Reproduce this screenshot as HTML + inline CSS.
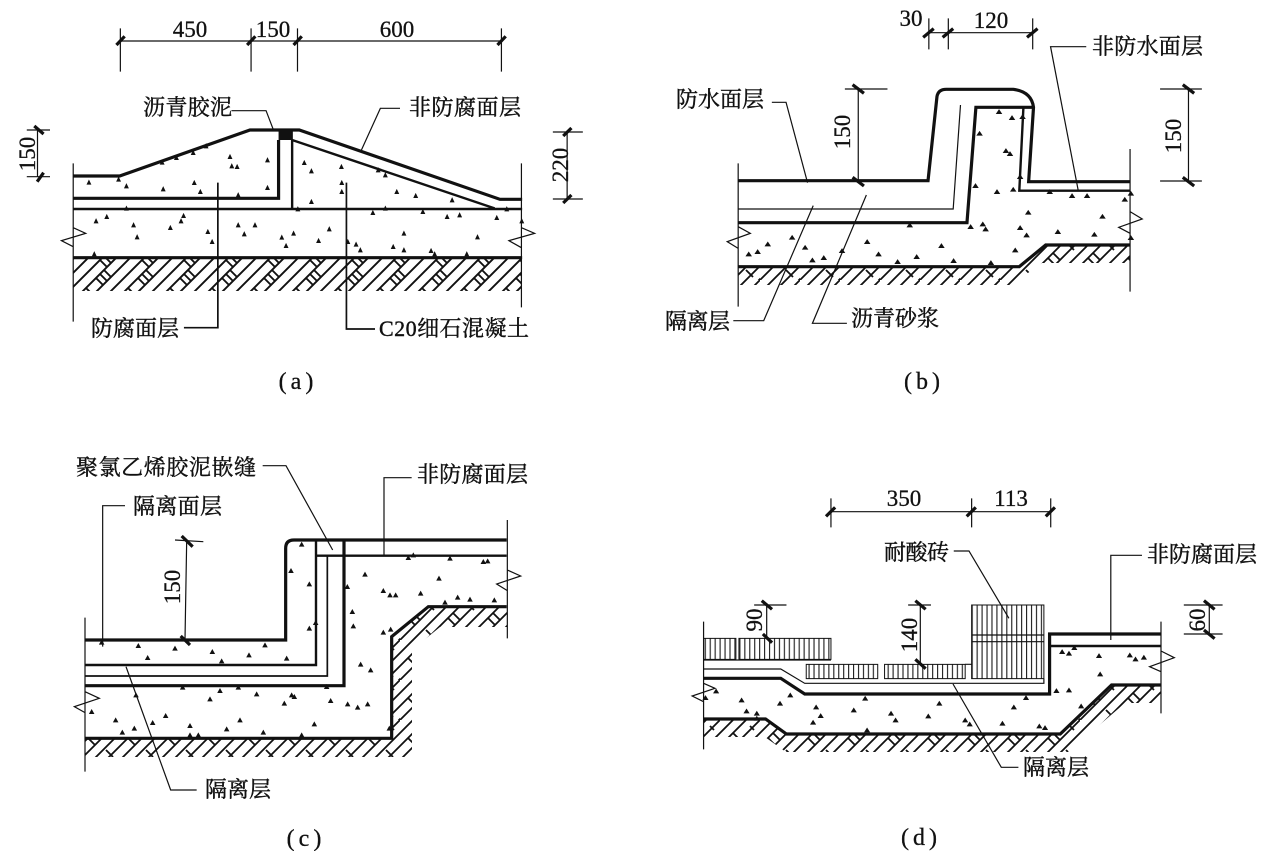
<!DOCTYPE html>
<html><head><meta charset="utf-8"><style>
html,body{margin:0;padding:0;background:#fff}
svg{display:block}
path,rect{vector-effect:non-scaling-stroke}
.l{fill:none;stroke:#111;stroke-linejoin:miter}
.w1{stroke-width:1.2}.w15{stroke-width:1.7}.w2{stroke-width:2.4}.w3{stroke-width:3.2}
.d{fill:#111;stroke:#111;stroke-width:1.3}
text{font-family:"Liberation Serif","Noto Serif CJK SC",serif;font-size:22px;fill:#111;stroke:#111;stroke-width:.4}
.n{font-family:"Liberation Serif",serif;font-size:23px;text-anchor:middle;stroke-width:.3}
.c{font-size:24px;letter-spacing:4px}
</style></head><body>
<svg width="1276" height="851" viewBox="0 0 1276 851" xmlns="http://www.w3.org/2000/svg">
<defs>
<pattern id="h" width="42" height="42" patternUnits="userSpaceOnUse" patternTransform="translate(10 0)">
<path d="M-1 1L1 -1M-1 15L15 -1M-1 29L29 -1M-1 43L43 -1M13 43L43 13M27 43L43 27M41 43L43 41M2 26L9 33M6 22L13 29M10 18L17 25M6 8L13 15M10 4L17 11M27 1L30 4M34 36L43 45" stroke="#111" stroke-width="1.9" fill="none"/>
</pattern>
<pattern id="h2" width="40" height="40" patternUnits="userSpaceOnUse">
<path d="M-1 14L14 -1M-1 27L27 -1M-1 41L41 -1M12 41L41 12M25 41L41 25M38 41L41 38M8 18L15 25M13 13L20 20M26 30L33 37M30 6L34 10" stroke="#111" stroke-width="1.8" fill="none"/>
</pattern>
<pattern id="v" width="13" height="20" patternUnits="userSpaceOnUse"><rect width="3" height="20" fill="#222"/></pattern>
</defs>
<rect width="1276" height="851" fill="#fff"/>

<!-- hatch -->
<rect x="73" y="259" width="448" height="32" fill="url(#h)"/>
<path d="M738 267H1019L1046 245H1130V263H1042L1011 285H738Z" fill="url(#h2)"/>
<path d="M85 738H392V637L428 607H507V627H440L412 650V757H85Z" fill="url(#h2)"/>
<path d="M704 719H765L787 734H1060L1112 685H1161V703H1125L1068 752H786L765 737H704Z" fill="url(#h2)"/>

<!-- (a) -->
<g transform="scale(.35714,.33333)">
<path class="l w3" d="M205 528H335L700 390H838L1400 598H1462"/>
<rect x="780" y="390" width="40" height="30" fill="#111"/>
<path class="l w3" d="M780 420V595H205"/>
<path class="l w2" d="M818 420V627M818 420L1385 625M205 627H1462"/>
<path class="l w3" d="M205 773H1462"/>
<path class="l w1" d="M205 490V965M1460 490V922M205 683L240 700L172 722L205 740M1460 683L1497 700L1425 722L1460 743"/>
<path class="l w1" d="M337 85V215M703 85V215M833 85V215M1404 85V215M337 123H1404"/>
<path class="l w3" d="M326 135L349 109M692 135L715 109M822 135L845 109M1393 135L1416 109"/>
<path class="l w1" d="M105 390V530M75 390H140M75 530H140M1588 396V597M1548 396H1632M1548 597H1632"/>
<path class="l w3" d="M96 378L122 402M104 545L122 518M1577 408L1600 384M1577 609L1600 585"/>
<path class="l w1" d="M648 332H745L765 388M1120 325H1065L1012 450"/>
<path class="l w15" d="M515 983H610V548M1050 987H970V548"/>
<path class="d" d="M245 552l4-9 4 9zM328 543l4-9 4 9zM350 563l4-9 4 9zM450 492l4-9 4 9zM490 478l4-9 4 9zM537 463l4-9 4 9zM573 443l4-9 4 9zM640 475l4-9 4 9zM645 503l4-9 4 9zM660 505l4-9 4 9zM745 485l4-9 4 9zM540 553l4-9 4 9zM453 572l4-9 4 9zM557 580l4-9 4 9zM663 590l4-9 4 9zM745 568l4-9 4 9zM848 493l4-9 4 9zM868 518l4-9 4 9zM952 505l4-9 4 9zM953 553l4-9 4 9zM953 580l4-9 4 9zM1055 515l4-9 4 9zM1075 530l4-9 4 9zM1107 580l4-9 4 9zM1160 592l4-9 4 9zM1262 605l4-9 4 9zM868 610l4-9 4 9zM265 668l4-9 4 9zM295 655l4-9 4 9zM370 680l4-9 4 9zM380 716l4-9 4 9zM473 688l4-9 4 9zM503 668l4-9 4 9zM510 652l4-9 4 9zM578 700l4-9 4 9zM590 730l4-9 4 9zM663 680l4-9 4 9zM680 707l4-9 4 9zM710 680l4-9 4 9zM785 717l4-9 4 9zM818 705l4-9 4 9zM797 742l4-9 4 9zM888 727l4-9 4 9zM918 692l4-9 4 9zM970 730l4-9 4 9zM993 738l4-9 4 9zM1005 755l4-9 4 9zM1040 643l4-9 4 9zM1075 630l4-9 4 9zM1180 640l4-9 4 9zM1248 655l4-9 4 9zM1283 650l4-9 4 9zM1387 658l4-9 4 9zM1457 668l4-9 4 9zM1127 705l4-9 4 9zM1333 716l4-9 4 9zM1097 745l4-9 4 9zM1127 755l4-9 4 9zM1203 757l4-9 4 9zM1213 767l4-9 4 9zM1303 767l4-9 4 9zM260 767l4-9 4 9zM350 630l4-9 4 9zM1415 632l4-9 4 9zM830 632l4-9 4 9z"/>
</g>
<text class="n" x="190" y="37">450</text>
<text class="n" x="273" y="37">150</text>
<text class="n" x="397" y="37">600</text>
<text class="n" transform="translate(35,154) rotate(-90)">150</text>
<text class="n" transform="translate(568,165) rotate(-90)">220</text>
<text x="143" y="115" textLength="89">沥青胶泥</text>
<text x="409" y="115" textLength="112">非防腐面层</text>
<text x="91" y="336" textLength="88">防腐面层</text>
<text x="379" y="336" textLength="150">C20细石混凝土</text>
<text class="n c" x="298" y="389">(a)</text>

<!-- (b) -->
<g transform="translate(640,0) scale(.40568,.33333)">
<path class="l w3" d="M242 542H710L732 290Q735 268 755 268H920Q965 275 970 322L958 545H1208"/>
<path class="l w1" d="M790 315L772 627H242"/>
<path class="l w3" d="M242 668H806L828 322H968"/>
<path class="l w2" d="M945 325L935 572H1208"/>
<path class="l w3" d="M242 800H935L1000 735H1208"/>
<path class="l w1" d="M242 490V920M1208 447V875M242 680L272 700L215 725L242 745M1208 635L1238 657L1180 682L1208 700"/>
<path class="l w1" d="M712 55V148M760 55V148M968 55V148M712 98H968M538 267V545M505 267H610M1352 267V543M1282 267H1385M1282 543H1385"/>
<path class="l w3" d="M698 112L724 86M746 112L772 86M954 112L980 86M524 254L552 280M524 532L552 558M1338 254L1366 280M1338 532L1366 558"/>
<path class="l w1" d="M325 307H360L413 548M1100 140H1012L1080 570M230 962H305L427 617M510 970H425L558 585"/>
<path class="d" d="M880 340l5-9 5 9zM912 358l5-9 5 9zM938 355l5-9 5 9zM832 405l5-9 5 9zM897 457l5-9 5 9zM907 466l5-9 5 9zM932 535l5-9 5 9zM822 562l5-9 5 9zM875 580l5-9 5 9zM915 573l5-9 5 9zM1005 580l5-9 5 9zM1060 592l5-9 5 9zM1097 592l5-9 5 9zM1190 603l5-9 5 9zM1205 585l5-9 5 9zM952 642l5-9 5 9zM1135 654l5-9 5 9zM810 685l5-9 5 9zM840 677l5-9 5 9zM847 692l5-9 5 9zM932 688l5-9 5 9zM948 710l5-9 5 9zM1025 700l5-9 5 9zM1115 708l5-9 5 9zM1205 718l5-9 5 9zM920 755l5-9 5 9zM660 680l5-9 5 9zM370 717l5-9 5 9zM310 737l5-9 5 9zM285 760l5-9 5 9zM263 767l5-9 5 9zM402 747l5-9 5 9zM493 757l5-9 5 9zM555 730l5-9 5 9zM738 742l5-9 5 9zM583 767l5-9 5 9zM677 775l5-9 5 9zM768 787l5-9 5 9zM860 793l5-9 5 9zM630 790l5-9 5 9zM420 785l5-9 5 9zM448 778l5-9 5 9z"/>
</g>
<text class="n" x="911" y="26">30</text>
<text class="n" x="991" y="28">120</text>
<text class="n" transform="translate(850,132) rotate(-90)">150</text>
<text class="n" transform="translate(1181,136) rotate(-90)">150</text>
<text x="676" y="107" textLength="88">防水面层</text>
<text x="1092" y="54" textLength="111">非防水面层</text>
<text x="665" y="329" textLength="65">隔离层</text>
<text x="851" y="326" textLength="88">沥青砂浆</text>
<text class="n c" x="924" y="389">(b)</text>

<!-- (c) -->
<g transform="translate(40,440) scale(.33333,.33333)">
<path class="l w3" d="M135 600H737V325Q737 300 762 300H1400"/>
<path class="l w2" d="M135 675H828V300M828 347H1400"/>
<path class="l w15" d="M135 708H862V347"/>
<path class="l w3" d="M135 737H912V300"/>
<path class="l w3" d="M135 895H1055V590L1165 500H1400"/>
<path class="l w1" d="M135 533V995M1402 240V595M135 755L178 775L103 800L135 818M1402 390L1442 408L1370 432L1402 452"/>
<path class="l w1" d="M440 305L435 600M405 300L490 305"/>
<path class="l w3" d="M425 288L458 320M422 588L450 615"/>
<path class="l w1" d="M668 77H738L878 330M1115 113H1032V347M255 197H188V620M470 1050H392L258 680"/>
<path class="d" d="M180 612l5-9 5 9zM290 622l5-9 5 9zM400 630l5-9 5 9zM318 658l5-9 5 9zM512 640l5-9 5 9zM622 650l5-9 5 9zM670 620l5-9 5 9zM735 660l5-9 5 9zM540 668l5-9 5 9zM780 318l5-9 5 9zM748 397l5-9 5 9zM803 437l5-9 5 9zM803 570l5-9 5 9zM822 553l5-9 5 9zM917 445l5-9 5 9zM970 408l5-9 5 9zM1100 358l5-9 5 9zM1115 350l5-9 5 9zM1225 360l5-9 5 9zM1325 370l5-9 5 9zM1338 368l5-9 5 9zM1192 420l5-9 5 9zM1025 457l5-9 5 9zM1045 470l5-9 5 9zM1062 470l5-9 5 9zM1137 465l5-9 5 9zM1248 477l5-9 5 9zM1285 483l5-9 5 9zM1358 485l5-9 5 9zM1210 492l5-9 5 9zM932 520l5-9 5 9zM935 563l5-9 5 9zM1025 582l5-9 5 9zM1047 573l5-9 5 9zM957 678l5-9 5 9zM987 695l5-9 5 9zM423 747l5-9 5 9zM535 757l5-9 5 9zM590 747l5-9 5 9zM645 767l5-9 5 9zM505 782l5-9 5 9zM750 770l5-9 5 9zM758 775l5-9 5 9zM728 795l5-9 5 9zM855 745l5-9 5 9zM867 787l5-9 5 9zM918 797l5-9 5 9zM948 807l5-9 5 9zM978 797l5-9 5 9zM283 770l5-9 5 9zM150 820l5-9 5 9zM222 845l5-9 5 9zM278 870l5-9 5 9zM333 853l5-9 5 9zM372 832l5-9 5 9zM445 862l5-9 5 9zM595 845l5-9 5 9zM242 882l5-9 5 9zM555 872l5-9 5 9zM665 882l5-9 5 9zM818 857l5-9 5 9zM1043 870l5-9 5 9zM445 890l5-9 5 9zM470 890l5-9 5 9zM780 890l5-9 5 9z"/>
</g>
<text class="n" transform="translate(180,587) rotate(-90)">150</text>
<text x="76" y="475" textLength="180">聚氯乙烯胶泥嵌缝</text>
<text x="417" y="482" textLength="111">非防腐面层</text>
<text x="133" y="514" textLength="89">隔离面层</text>
<text x="205" y="797" textLength="66">隔离层</text>
<text class="n c" x="306" y="846">(c)</text>

<!-- (d) -->
<g transform="translate(680,470) scale(.38023,.33333)">
<rect x="62" y="505" width="85" height="63" fill="url(#v)" stroke="#111" stroke-width="1"/>
<rect x="155" y="505" width="242" height="63" fill="url(#v)" stroke="#111" stroke-width="1"/>
<rect x="332" y="583" width="188" height="43" fill="url(#v)" stroke="#111" stroke-width="1"/>
<rect x="538" y="583" width="212" height="43" fill="url(#v)" stroke="#111" stroke-width="1"/>
<rect x="767" y="405" width="190" height="221" fill="url(#v)" stroke="#111" stroke-width="1"/>
<path class="l w1" d="M767 495H957M767 515H957"/>
<path class="l w1" d="M62 570H397M750 583H767M62 597H265L328 640H957V626"/>
<path class="l w3" d="M62 625H265L328 672H972V492H1265"/>
<path class="l w2" d="M972 528H1265"/>
<path class="l w3" d="M62 747H225L280 792H1000L1135 645H1265"/>
<path class="l w1" d="M62 455V838M1265 455V730M62 640L92 655L32 678L62 695M1265 543L1300 563L1235 590L1265 605"/>
<path class="l w1" d="M397 85V172M767 85V172M975 85V172M397 125H975M228 405V505M195 405H280M632 405V583M600 405H660M1392 405V492M1325 405H1427M1325 492H1427"/>
<path class="l w3" d="M384 139L408 112M754 139L778 112M962 139L986 112M215 392L242 418M218 492L242 518M619 392L646 418M619 568L646 596M1378 392L1406 418M1378 480L1406 506"/>
<path class="l w1" d="M720 243H760L865 445M1215 256H1133V510M890 892H845L718 642"/>
<path class="d" d="M90 668l5-9 5 9zM62 688l5-9 5 9zM157 695l5-9 5 9zM170 728l5-9 5 9zM197 735l5-9 5 9zM197 750l5-9 5 9zM285 680l5-9 5 9zM258 705l5-9 5 9zM353 716l5-9 5 9zM365 742l5-9 5 9zM345 762l5-9 5 9zM452 725l5-9 5 9zM482 690l5-9 5 9zM550 735l5-9 5 9zM562 755l5-9 5 9zM648 743l5-9 5 9zM677 705l5-9 5 9zM745 755l5-9 5 9zM757 767l5-9 5 9zM843 765l5-9 5 9zM873 716l5-9 5 9zM905 688l5-9 5 9zM985 667l5-9 5 9zM1018 665l5-9 5 9zM940 773l5-9 5 9zM955 778l5-9 5 9zM1050 713l5-9 5 9zM1000 550l5-9 5 9zM1018 555l5-9 5 9zM1032 538l5-9 5 9zM1097 562l5-9 5 9zM1178 560l5-9 5 9zM1193 572l5-9 5 9zM1215 567l5-9 5 9zM1100 617l5-9 5 9zM487 785l5-9 5 9z"/>
</g>
<text class="n" x="904" y="506">350</text>
<text class="n" x="1011" y="506">113</text>
<text class="n" transform="translate(762,620) rotate(-90)">90</text>
<text class="n" transform="translate(917,635) rotate(-90)">140</text>
<text class="n" transform="translate(1205,620) rotate(-90)">60</text>
<text x="884" y="560" textLength="65">耐酸砖</text>
<text x="1147" y="562" textLength="110">非防腐面层</text>
<text x="1023" y="775" textLength="66">隔离层</text>
<text class="n c" x="921" y="845">(d)</text>
</svg>
</body></html>
